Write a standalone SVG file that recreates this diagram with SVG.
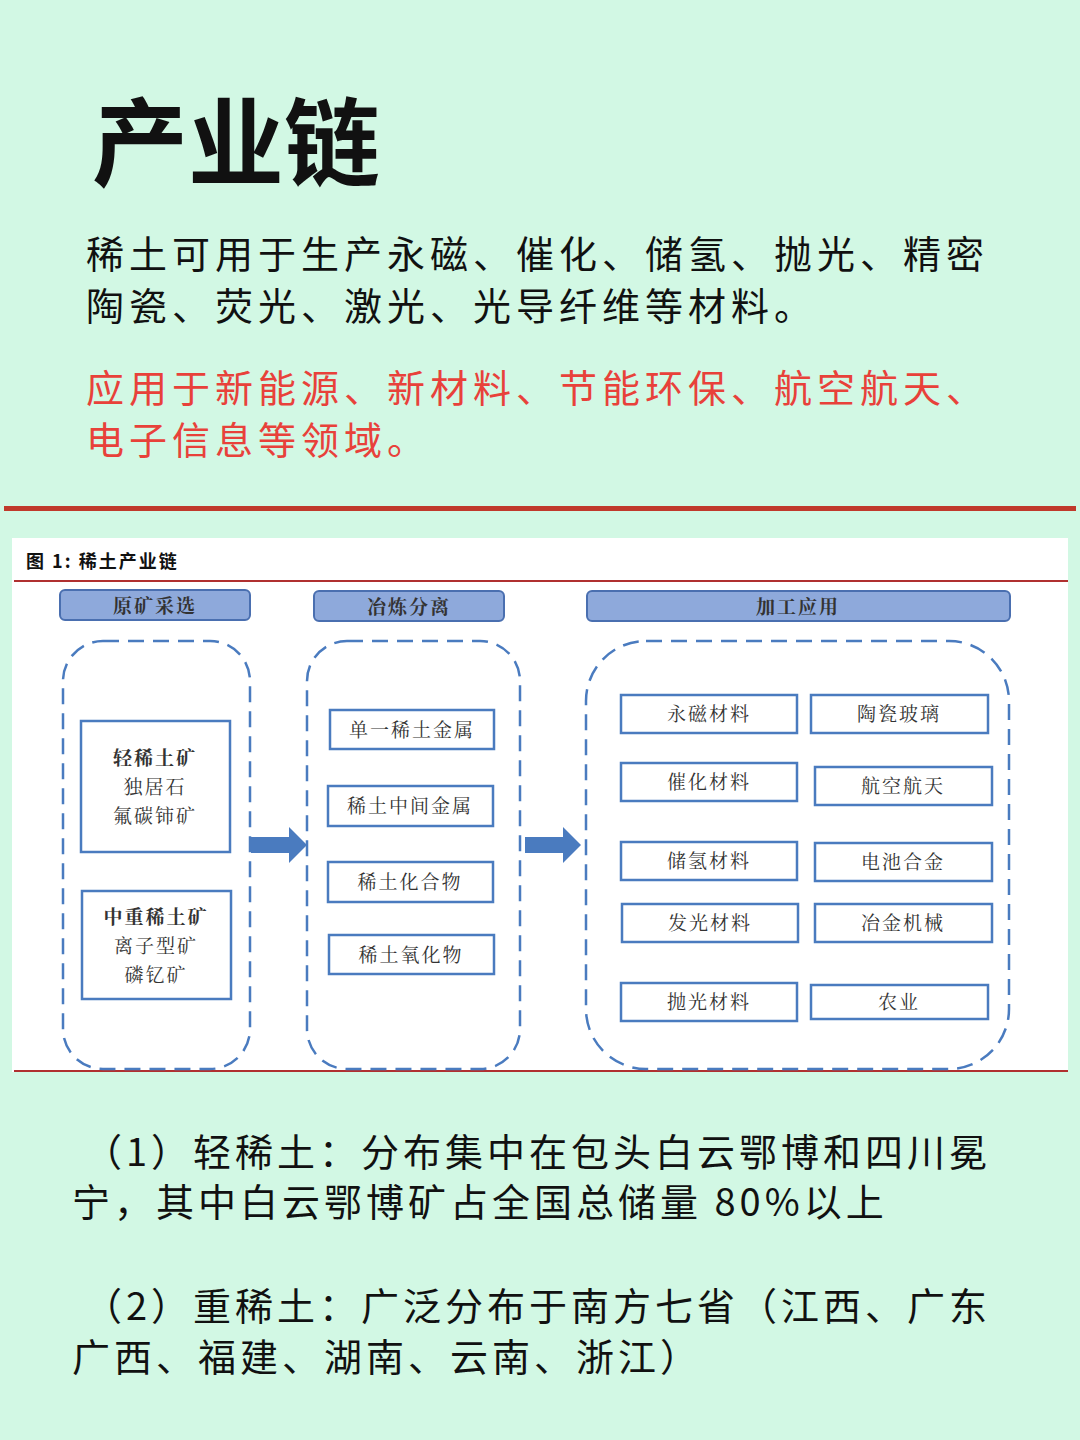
<svg xmlns="http://www.w3.org/2000/svg" width="1080" height="1440" viewBox="0 0 1080 1440">
<defs>
<style>
.h{font-family:"Noto Sans CJK SC","Noto Sans",sans-serif;fill:#111}
.b{letter-spacing:5px}
.c{letter-spacing:4px}
.s{font-family:"Noto Serif CJK SC","Noto Sans CJK SC",serif;fill:#333;font-size:19px;text-anchor:middle;letter-spacing:2px}
.hd{fill:#8ea9db;stroke:#4a6fb0;stroke-width:2}
.dash{fill:none;stroke:#4a7bbf;stroke-width:2.5;stroke-dasharray:16 9}
.bx{fill:#fff;stroke:#4a7bbf;stroke-width:2.5}
.ar{fill:#4a7bbf}
</style>
</defs>
<rect width="1080" height="1440" fill="#d2f8e4"/>
<text class="h" x="92" y="178" font-size="96" font-weight="bold">产业链</text>
<text class="h b" x="86" y="268" font-size="38">稀土可用于生产永磁、催化、储氢、抛光、精密</text>
<text class="h b" x="86" y="320" font-size="38">陶瓷、荧光、激光、光导纤维等材料。</text>
<text class="h b" x="86" y="402" font-size="38" style="fill:#e8413a">应用于新能源、新材料、节能环保、航空航天、</text>
<text class="h b" x="86" y="454" font-size="38" style="fill:#e8413a">电子信息等领域。</text>
<rect x="4" y="506" width="1072" height="5" fill="#c0392b"/>
<rect x="12" y="538" width="1056" height="534" fill="#fff"/>
<text class="h" x="26" y="568" font-size="18" font-weight="bold" letter-spacing="2">图 1:  稀土产业链</text>
<line x1="14" y1="581" x2="1068" y2="581" stroke="#b03030" stroke-width="2"/>
<line x1="14" y1="1071" x2="1068" y2="1071" stroke="#b03030" stroke-width="2"/>
<g id="h1"><rect class="hd" x="60" y="590" width="190" height="30" rx="5"/><text class="s" x="155" y="613" font-weight="bold">原矿采选</text></g>
<g id="h2"><rect class="hd" x="314" y="591" width="190" height="30" rx="5"/><text class="s" x="409" y="614" font-weight="bold">冶炼分离</text></g>
<g id="h3"><rect class="hd" x="587" y="591" width="423" height="30" rx="5"/><text class="s" x="798" y="614" font-weight="bold">加工应用</text></g>
<g id="c1"><rect class="dash" x="63" y="641" width="187" height="428" rx="40"/></g>
<g id="c2"><rect class="dash" x="307" y="641" width="213" height="428" rx="40"/></g>
<g id="c3"><rect class="dash" x="586" y="641" width="423" height="428" rx="60"/></g>
<g id="n1"><rect class="bx" x="81" y="721" width="149" height="131"/><text class="s" x="155" y="765" font-weight="bold">轻稀土矿</text><text class="s" x="155" y="794">独居石</text><text class="s" x="155" y="823">氟碳铈矿</text></g>
<g id="n2"><rect class="bx" x="82" y="891" width="149" height="108"/><text class="s" x="156" y="924" font-weight="bold">中重稀土矿</text><text class="s" x="156" y="953">离子型矿</text><text class="s" x="156" y="982">磷钇矿</text></g>
<g id="m1"><rect class="bx" x="330" y="710" width="164" height="39"/><text class="s" x="412" y="737">单一稀土金属</text></g>
<g id="m2"><rect class="bx" x="328" y="786" width="165" height="40"/><text class="s" x="410" y="813">稀土中间金属</text></g>
<g id="m3"><rect class="bx" x="328" y="862" width="165" height="40"/><text class="s" x="410" y="889">稀土化合物</text></g>
<g id="m4"><rect class="bx" x="329" y="935" width="165" height="39"/><text class="s" x="411" y="962">稀土氧化物</text></g>
<g id="a1"><rect class="bx" x="621" y="695" width="176" height="38"/><text class="s" x="709" y="721">永磁材料</text></g>
<g id="a2"><rect class="bx" x="811" y="695" width="177" height="38"/><text class="s" x="899" y="721">陶瓷玻璃</text></g>
<g id="a3"><rect class="bx" x="621" y="763" width="176" height="38"/><text class="s" x="709" y="789">催化材料</text></g>
<g id="a4"><rect class="bx" x="815" y="767" width="177" height="38"/><text class="s" x="903" y="793">航空航天</text></g>
<g id="a5"><rect class="bx" x="621" y="842" width="176" height="38"/><text class="s" x="709" y="868">储氢材料</text></g>
<g id="a6"><rect class="bx" x="815" y="843" width="177" height="38"/><text class="s" x="903" y="869">电池合金</text></g>
<g id="a7"><rect class="bx" x="622" y="904" width="176" height="38"/><text class="s" x="710" y="930">发光材料</text></g>
<g id="a8"><rect class="bx" x="815" y="904" width="177" height="38"/><text class="s" x="903" y="930">冶金机械</text></g>
<g id="a9"><rect class="bx" x="621" y="983" width="176" height="38"/><text class="s" x="709" y="1009">抛光材料</text></g>
<g id="a10"><rect class="bx" x="811" y="985" width="177" height="34"/><text class="s" x="899" y="1009">农业</text></g>
<g id="connectors">
<polygon class="ar" points="251,837 289,837 289,827 307,845 289,863 289,853 251,853"/>
<polygon class="ar" points="525,837 563,837 563,827 581,845 563,863 563,853 525,853"/>
</g>
<text class="h c" x="84" y="1166" font-size="38">（1）轻稀土：分布集中在包头白云鄂博和四川冕</text>
<text class="h c" x="72" y="1216" font-size="38">宁，其中白云鄂博矿占全国总储量 80%以上</text>
<text class="h c" x="84" y="1320" font-size="38">（2）重稀土：广泛分布于南方七省（江西、广东</text>
<text class="h c" x="72" y="1371" font-size="38">广西、福建、湖南、云南、浙江）</text>
</svg>
